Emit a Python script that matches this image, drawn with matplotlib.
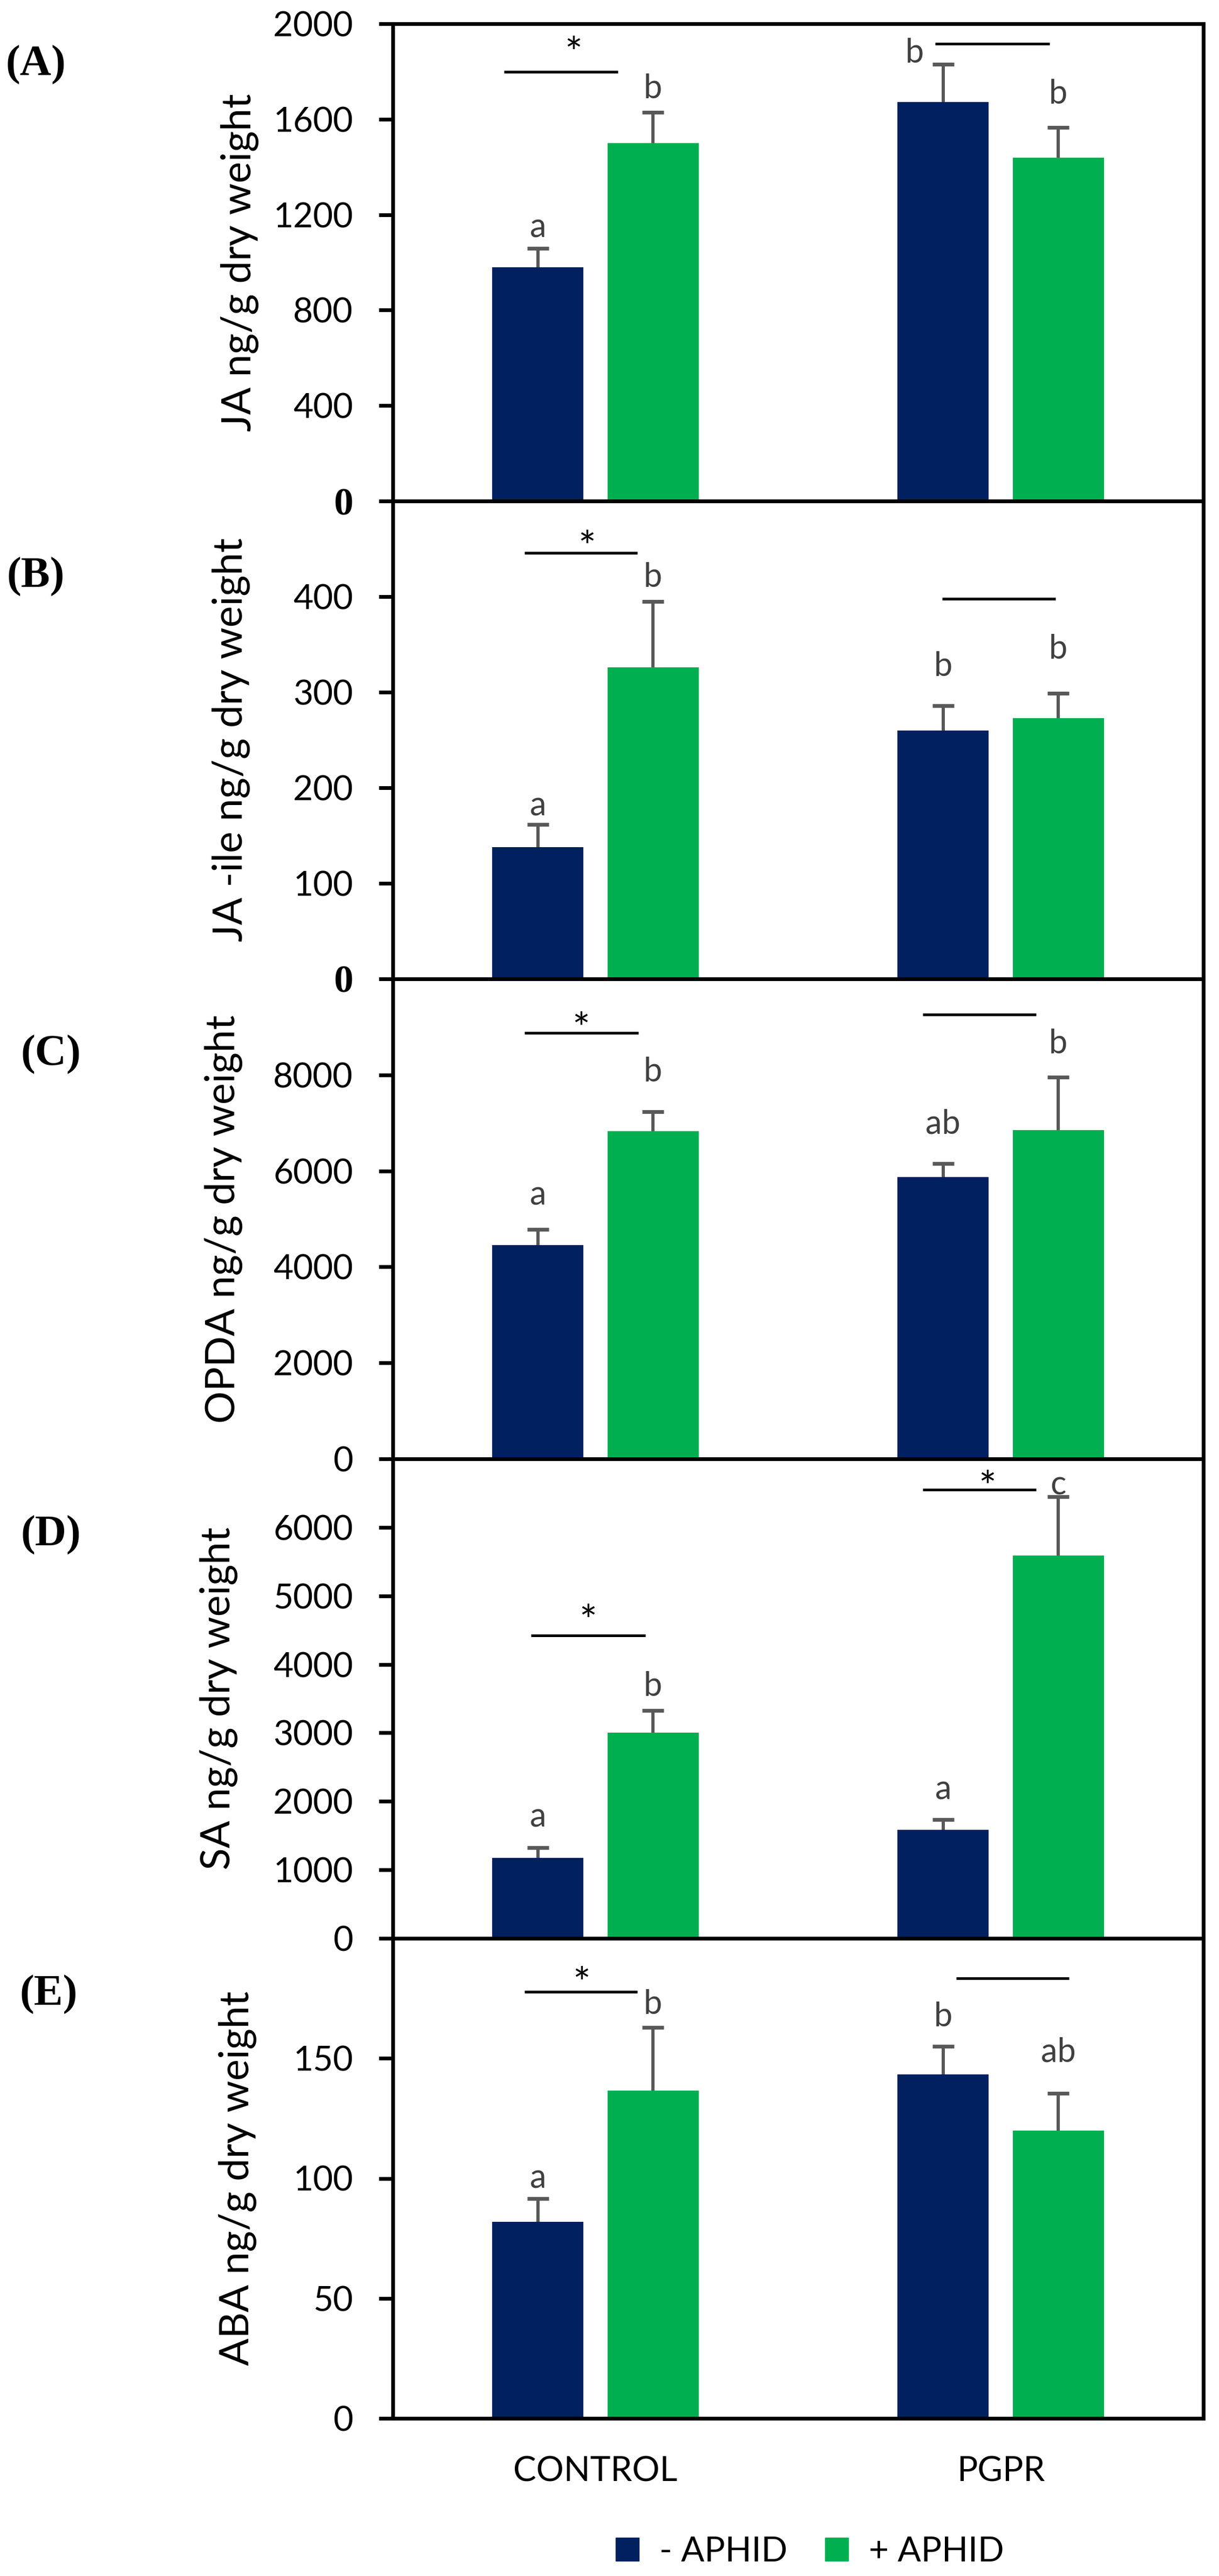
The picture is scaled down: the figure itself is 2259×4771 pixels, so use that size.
"""Hormone levels (JA, JA-ile, OPDA, SA, ABA) in control and PGPR plants, with and without aphids"""

import numpy as np
import matplotlib
matplotlib.use("Agg")
import matplotlib.pyplot as plt
from matplotlib.patches import Patch

plt.rcParams['font.family'] = ['Lato', 'DejaVu Sans']

# ---------------- data ----------------
groups = ['CONTROL', 'PGPR']
series_names = ['- APHID', '+ APHID']
panel_tags = ['(A)', '(B)', '(C)', '(D)', '(E)']
ylabels = ['JA ng/g dry weight', 'JA -ile ng/g dry weight', 'OPDA ng/g dry weight',
           'SA ng/g dry weight', 'ABA ng/g dry weight']

ja_minus = [980, 1671]
ja_plus = [1500, 1440]
ja_minus_err = [78, 159]
ja_plus_err = [129, 125]
ja_letters = [['a', 'b'], ['b', 'b']]

jaile_minus = [138, 260]
jaile_plus = [326, 273]
jaile_minus_err = [23.5, 26]
jaile_plus_err = [69, 26]
jaile_letters = [['a', 'b'], ['b', 'b']]

opda_minus = [4460, 5870]
opda_plus = [6827, 6856]
opda_minus_err = [324, 288]
opda_plus_err = [410, 1100]
opda_letters = [['a', 'ab'], ['b', 'b']]

sa_minus = [1177, 1581]
sa_plus = [3005, 5586]
sa_minus_err = [146, 156]
sa_plus_err = [323, 863]
sa_letters = [['a', 'a'], ['b', 'c']]

aba_minus = [82, 143.2]
aba_plus = [136.6, 120]
aba_minus_err = [9.5, 11.8]
aba_plus_err = [26.2, 15.4]
aba_letters = [['a', 'b'], ['b', 'ab']]

# significance star per group (CONTROL, PGPR)
ja_star = [True, False]
jaile_star = [True, False]
opda_star = [True, False]
sa_star = [True, True]
aba_star = [True, False]

panels = [
    (ja_minus, ja_plus, ja_minus_err, ja_plus_err, ja_letters, ja_star),
    (jaile_minus, jaile_plus, jaile_minus_err, jaile_plus_err, jaile_letters, jaile_star),
    (opda_minus, opda_plus, opda_minus_err, opda_plus_err, opda_letters, opda_star),
    (sa_minus, sa_plus, sa_minus_err, sa_plus_err, sa_letters, sa_star),
    (aba_minus, aba_plus, aba_minus_err, aba_plus_err, aba_letters, aba_star),
]

# ---------------- layout ----------------
W, H = 2259, 4771
left_px, right_px = 728, 2230
tops_px = [44, 928, 1813, 2702, 3590]
bottoms_px = [928, 1813, 2702, 3590, 4479]
ymax = [2000, 500, 10000, 7000, 200]
ystep = [400, 100, 2000, 1000, 50]
ytick_top = [2000, 400, 8000, 6000, 150]
ylabel_x = [-0.165, -0.176, -0.185, -0.191, -0.168]
tag_pos = [(10, 120), (12, 1068), (38, 1953), (38, 2843), (36, 3694)]
# letter gap above error bar, fraction of axis height: [minus CONTROL, minus PGPR], [plus ...]
letter_pad = [[[0.0435, 0.0235], [0.0495, 0.0695]],
              [[0.039, 0.082], [0.05, 0.092]],
              [[0.0705, 0.0813], [0.0828, 0.0683]],
              [[0.0636, 0.0621], [0.0499, 0.0239]],
              [[0.0415, 0.0615], [0.0485, 0.0855]]]
letter_dx = [[[0, -0.07], [0, 0]]] + [[[0, 0], [0, 0]]] * 4
# comparison lines: y of CONTROL / PGPR line, x extents, star y
line_y = [(1799, 1916), (446, 398), (8878, 9252), (4419, 6550), (177.8, 183.3)]
line_x = [((-0.226, 0.055), (0.838, 1.12)),
          ((-0.175, 0.103), (0.856, 1.135)),
          ((-0.175, 0.106), (0.808, 1.087)),
          ((-0.159, 0.123), (0.808, 1.087)),
          ((-0.175, 0.103), (0.89, 1.168))]
star_y = [(1919, None), (462, None), (9168, None), (4777, 6732), (185.4, None)]
star_x = [(-0.054, None), (-0.021, None), (-0.035, None), (-0.018, 0.967), (-0.034, None)]

navy = '#002060'
green = '#00B050'
err_col = '#595959'
letter_col = '#404040'
bar_w = 0.225
offs = [-0.142, 0.142]

fig = plt.figure(figsize=(W / 100, H / 100), dpi=100)
x = np.arange(len(groups))

for i, (mvals, pvals, merr, perr, letters, stars) in enumerate(panels):
    ax = fig.add_axes([left_px / W, 1 - bottoms_px[i] / H,
                       (right_px - left_px) / W, (bottoms_px[i] - tops_px[i]) / H])
    for s, (vals, errs, col) in enumerate([(mvals, merr, navy), (pvals, perr, green)]):
        xs = x + offs[s]
        ax.bar(xs, vals, width=bar_w, color=col, zorder=2)
        eb = ax.errorbar(xs, vals, yerr=[np.zeros(len(vals)), errs], fmt='none',
                         ecolor=err_col, elinewidth=4.3, capsize=14.4, capthick=5,
                         zorder=3)
        for cap in eb[1]:
            if np.allclose(cap.get_ydata(), vals):
                cap.set_visible(False)
        for g in range(len(groups)):
            ty = vals[g] + errs[g] + letter_pad[i][s][g] * ymax[i]
            ax.text(xs[g] + letter_dx[i][s][g], ty, letters[s][g], ha='center',
                    va='center', fontsize=44, color=letter_col, zorder=4)

    for g in range(len(groups)):
        x0, x1 = line_x[i][g]
        ax.plot([x0, x1], [line_y[i][g]] * 2, color='black', lw=3.6,
                solid_capstyle='butt', zorder=4)
        if stars[g]:
            ax.annotate('*', (star_x[i][g], star_y[i][g]), xytext=(0, -17),
                        textcoords='offset points', ha='center', va='center',
                        fontsize=56, color='black')

    ax.set_xlim(-0.5, 1.5)
    ax.set_ylim(0, ymax[i])
    ax.set_yticks(np.arange(0, ytick_top[i] + ystep[i] / 2, ystep[i]))
    ax.tick_params(axis='y', direction='out', length=19, width=5, pad=34,
                   labelsize=46)
    for sp in ax.spines.values():
        sp.set_linewidth(5)
        sp.set_color('black')
    if i < 2:
        zl = ax.get_yticklabels()[0]
        zl.set_fontfamily('Liberation Serif')
        zl.set_fontweight('bold')
        zl.set_fontsize(52)
    ax.set_ylabel(ylabels[i], fontsize=54)
    ax.yaxis.set_label_coords(ylabel_x[i], 0.5)
    if i == len(panels) - 1:
        ax.set_xticks(x)
        ax.set_xticklabels(groups)
        ax.tick_params(axis='x', length=0, pad=50, labelsize=46)
    else:
        ax.set_xticks([])
    tx, ty = tag_pos[i]
    fig.text(tx / W, 1 - ty / H, panel_tags[i], ha='left', va='center',
             fontsize=58, fontweight='bold', family='Liberation Serif')

handles = [Patch(color=navy), Patch(color=green)]
fig.legend(handles, series_names, loc='center', bbox_to_anchor=(1501 / W, 1 - 4726 / H),
           ncol=2, frameon=False, fontsize=46, handlelength=0.66, handleheight=0.64,
           handletextpad=0.6, columnspacing=1.1)

fig.savefig('out.png', dpi=100)
